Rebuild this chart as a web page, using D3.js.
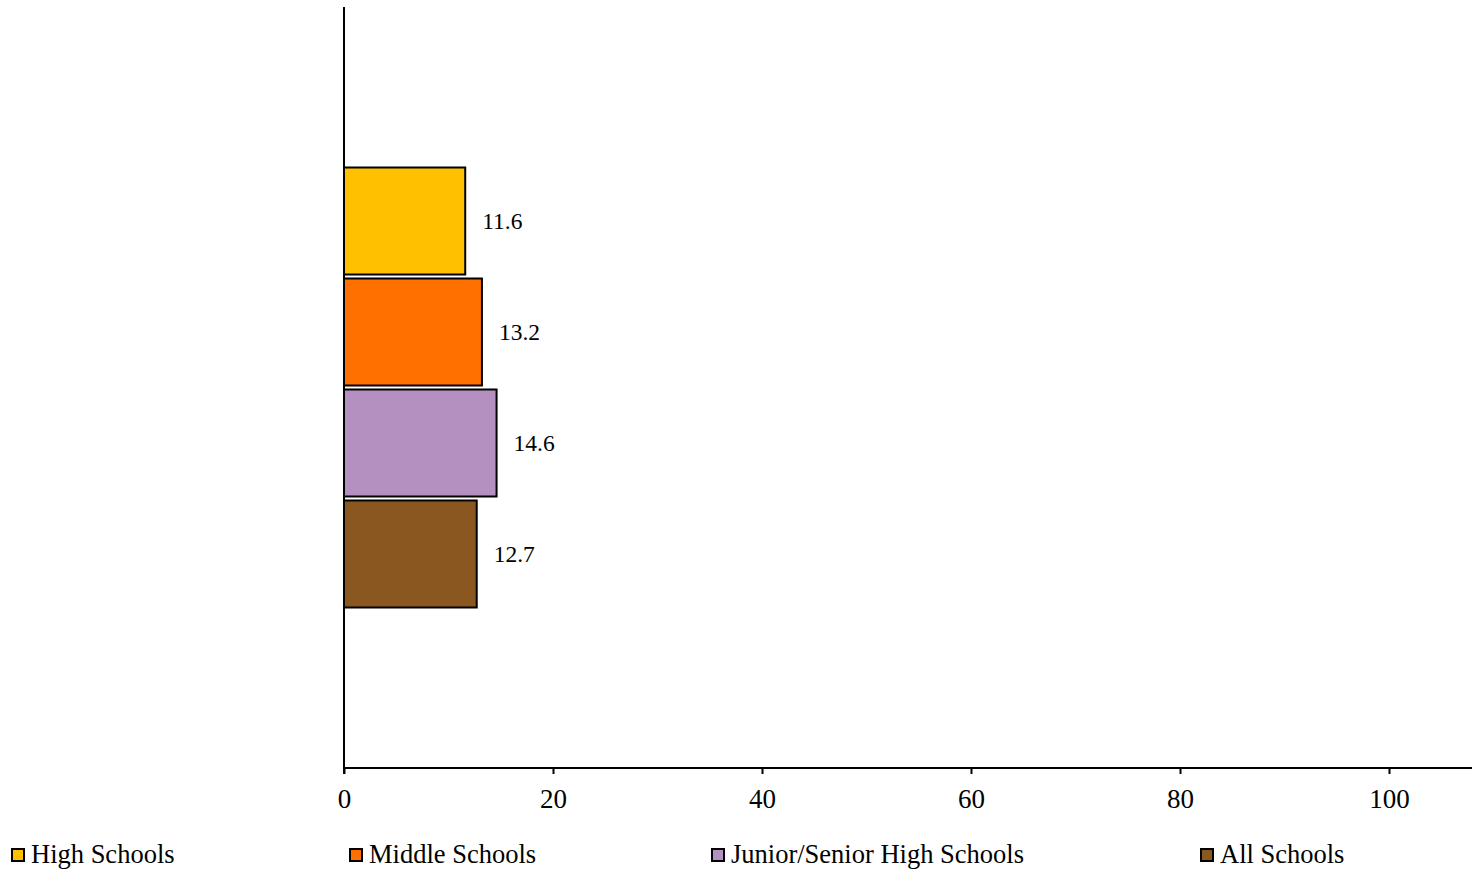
<!DOCTYPE html>
<html>
<head>
<meta charset="utf-8">
<script src="https://cdn.jsdelivr.net/npm/d3@7"></script>
<style>
html,body{margin:0;padding:0;background:#fff;}
svg{display:block;}
text{font-family:"Liberation Serif","Times New Roman",serif;fill:#000;}
</style>
</head>
<body>
<svg id="chart" width="1476" height="869"></svg>
<script>
const categories = [""];
const seriesNames = ["High Schools", "Middle Schools", "Junior/Senior High Schools", "All Schools"];
const seriesValues = [11.6, 13.2, 14.6, 12.7];
const seriesColors = ["#FFC000", "#FF7000", "#B490C0", "#8B5720"];
const tickValues = [0, 20, 40, 60, 80, 100];
const legendX = [11, 349, 711, 1200];

const svg = d3.select("#chart");
const x0 = 344, xEnd = 1472, yTop = 7, yBot = 768;
const x = d3.scaleLinear().domain([0, 100]).range([x0, 1389]);
const y = d3.scaleBand().domain(categories).range([yTop, yBot]).paddingOuter(0.357);
const yi = d3.scaleBand().domain(seriesNames).range([0, y.bandwidth()])
  .paddingInner(0.036).paddingOuter(0.018);

const data = seriesNames.map((s, i) => ({name: s, value: seriesValues[i], color: seriesColors[i]}));

const g = svg.append("g");
const cat = g.selectAll("g.cat").data(categories).join("g")
  .attr("transform", c => `translate(0,${y(c)})`);

cat.selectAll("rect").data(data).join("rect")
  .attr("x", x(0))
  .attr("y", d => yi(d.name))
  .attr("width", d => x(d.value) - x(0))
  .attr("height", yi.bandwidth())
  .attr("fill", d => d.color)
  .attr("stroke", "#000")
  .attr("stroke-width", 2);

cat.selectAll("text.lbl").data(data).join("text")
  .attr("class", "lbl")
  .attr("x", d => x(d.value) + 17)
  .attr("y", d => yi(d.name) + yi.bandwidth() / 2)
  .attr("dy", "0.35em")
  .style("font-size", "23.5px")
  .text(d => d.value.toFixed(1));

// X axis
const xAxis = d3.axisBottom(x).tickValues(tickValues).tickSize(6).tickPadding(15).tickFormat(d3.format("d"));
const ax = svg.append("g").attr("transform", `translate(0,${yBot})`).call(xAxis);
ax.select(".domain").remove();
ax.selectAll(".tick line").attr("stroke", "#000").attr("stroke-width", 2);
ax.selectAll(".tick text").style("font-size", "27px").attr("font-family", null);
ax.append("line").attr("x1", x0 - 1).attr("x2", xEnd).attr("y1", 0).attr("y2", 0)
  .attr("stroke", "#000").attr("stroke-width", 2);

// Y axis line
svg.append("line").attr("x1", x0).attr("x2", x0).attr("y1", yTop).attr("y2", yBot + 6)
  .attr("stroke", "#000").attr("stroke-width", 2);

// Legend
const lg = svg.append("g").selectAll("g").data(data).join("g")
  .attr("transform", (d, i) => `translate(${legendX[i]},848)`);
lg.append("rect").attr("x", 1).attr("y", 1).attr("width", 12).attr("height", 12)
  .attr("fill", d => d.color).attr("stroke", "#000").attr("stroke-width", 2);
lg.append("text").attr("x", 20).attr("y", 15).style("font-size", "26.5px").text(d => d.name);
</script>
</body>
</html>
